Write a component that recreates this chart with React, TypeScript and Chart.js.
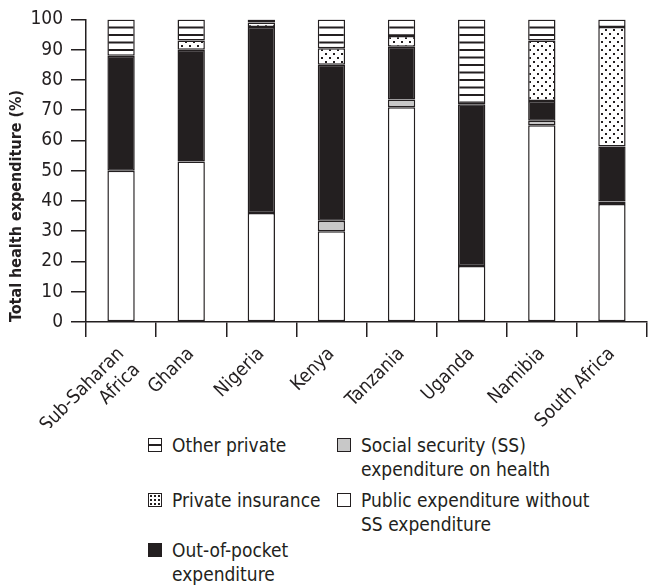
import { useEffect, useRef } from 'react';
import { Chart, registerables } from 'chart.js';
Chart.register(...registerables);

const categories: (string | string[])[] = [['Sub-Saharan', 'Africa'], 'Ghana', 'Nigeria', 'Kenya', 'Tanzania', 'Uganda', 'Namibia', 'South Africa'];
const publicExp = [50, 53, 36, 30, 71, 18.5, 65, 39];
const socialSecurity = [null, null, null, 3.5, 2.5, null, 1.5, 0.8];
const outOfPocket = [38, 37, 61.5, 51.5, 17.5, 53.5, 6.5, 18.2];
const privateInsurance = [null, 3, 1.5, 5.5, 3.5, null, 20, 39.5];
const otherPrivate = [12, 7, 1, 9.5, 5.5, 28, 7, 2.5];
const yTicks = [0, 10, 20, 30, 40, 50, 60, 70, 80, 90, 100];

const FONT = "'Liberation Sans Narrow', 'DejaVu Sans Condensed', 'Roboto', sans-serif";
const INK = '#231f20';
const GREY = '#c8c8c8';

function stripePattern(): CanvasPattern | string {
  const c = document.createElement('canvas');
  c.width = 8; c.height = 15;
  const g = c.getContext('2d');
  if (!g) return '#fff';
  g.fillStyle = '#fff'; g.fillRect(0, 0, 8, 15);
  g.fillStyle = INK;
  g.fillRect(0, 4, 8, 2);
  g.fillRect(0, 11.5, 8, 2);
  return g.createPattern(c, 'repeat') || '#fff';
}

function dotPattern(): CanvasPattern | string {
  const c = document.createElement('canvas');
  c.width = 8; c.height = 8;
  const g = c.getContext('2d');
  if (!g) return '#fff';
  g.fillStyle = '#fff'; g.fillRect(0, 0, 8, 8);
  g.fillStyle = INK;
  g.fillRect(1, 1, 2, 2);
  g.fillRect(5, 5, 2, 2);
  return g.createPattern(c, 'repeat') || '#fff';
}

const swatchBase: React.CSSProperties = {
  position: 'absolute', width: 12, height: 12, border: `1.5px solid ${INK}`, boxSizing: 'content-box',
};

function LegendItem({ x, y, swatch, lines }: { x: number; y: number; swatch: React.CSSProperties; lines: string[] }) {
  return (
    <div style={{ position: 'absolute', left: x, top: y }}>
      <div style={{ ...swatchBase, left: 0, top: 5, ...swatch }} />
      <div style={{ position: 'absolute', left: 24, top: 0, whiteSpace: 'nowrap', font: `19px ${FONT}`, lineHeight: '24px', color: INK }}>
        {lines.map((l, i) => <div key={i}>{l}</div>)}
      </div>
    </div>
  );
}

export default function App() {
  const ref = useRef<HTMLCanvasElement | null>(null);
  useEffect(() => {
    if (!ref.current) return;
    const stripes = stripePattern();
    const dots = dotPattern();
    const common = { borderColor: INK, borderWidth: 1.5, borderSkipped: false as const, barPercentage: 0.39, categoryPercentage: 1 };
    const chart = new Chart(ref.current, {
      type: 'bar',
      data: {
        labels: categories,
        datasets: [
          { label: 'Public expenditure without SS expenditure', data: publicExp, backgroundColor: '#ffffff', ...common },
          { label: 'Social security (SS) expenditure on health', data: socialSecurity, backgroundColor: GREY, ...common },
          { label: 'Out-of-pocket expenditure', data: outOfPocket, backgroundColor: INK, ...common },
          { label: 'Private insurance', data: privateInsurance, backgroundColor: dots as any, ...common },
          { label: 'Other private', data: otherPrivate, backgroundColor: stripes as any, ...common },
        ],
      },
      options: {
        responsive: false,
        animation: false,
        layout: { padding: { top: 13, right: 1, left: 0, bottom: 0 } },
        plugins: { legend: { display: false }, tooltip: { enabled: false } },
        scales: {
          x: {
            stacked: true,
            offset: true,
            grid: { offset: true, drawOnChartArea: false, drawTicks: true, tickLength: 15, color: INK, lineWidth: 1.5 },
            border: { color: INK, width: 1.5 },
            ticks: { color: INK, font: { family: FONT, size: 19 }, minRotation: 45, maxRotation: 45, padding: 6, autoSkip: false },
            afterFit: (s: any) => { s.height = 428 - 322; },
          },
          y: {
            stacked: true,
            min: 0, max: 100,
            afterBuildTicks: (s: any) => { s.ticks = yTicks.map((v) => ({ value: v })); },
            grid: { drawOnChartArea: false, tickLength: 15, color: INK, lineWidth: 1.5 },
            border: { color: INK, width: 1.5 },
            ticks: { color: INK, font: { family: FONT, size: 19 }, padding: 8 },
            title: { display: true, text: 'Total health expenditure (%)', align: 'start', color: INK, font: { family: FONT, size: 16, weight: 'bold' }, padding: { top: 7, bottom: 0 } },
            afterFit: (s: any) => { s.width = 86; },
          },
        },
      },
    });
    return () => chart.destroy();
  }, []);

  return (
    <div style={{ position: 'absolute', left: 0, top: 0, width: 648, height: 587, background: '#fff' }}>
      <canvas ref={ref} width={648} height={428} style={{ display: 'block' }} />
      <LegendItem x={148} y={433} lines={['Other private']} swatch={{ background: `linear-gradient(${INK}, ${INK}) center / 100% 2px no-repeat, #fff` }} />
      <LegendItem x={337} y={433} lines={['Social security (SS)', 'expenditure on health']} swatch={{ background: GREY }} />
      <LegendItem x={148} y={488} lines={['Private insurance']} swatch={{ background: `radial-gradient(circle, ${INK} 1px, transparent 1.3px) 0 0 / 4px 4px, #fff` }} />
      <LegendItem x={337} y={488} lines={['Public expenditure without', 'SS expenditure']} swatch={{ background: '#fff', borderWidth: 1 }} />
      <LegendItem x={148} y={538} lines={['Out-of-pocket', 'expenditure']} swatch={{ background: INK }} />
    </div>
  );
}
